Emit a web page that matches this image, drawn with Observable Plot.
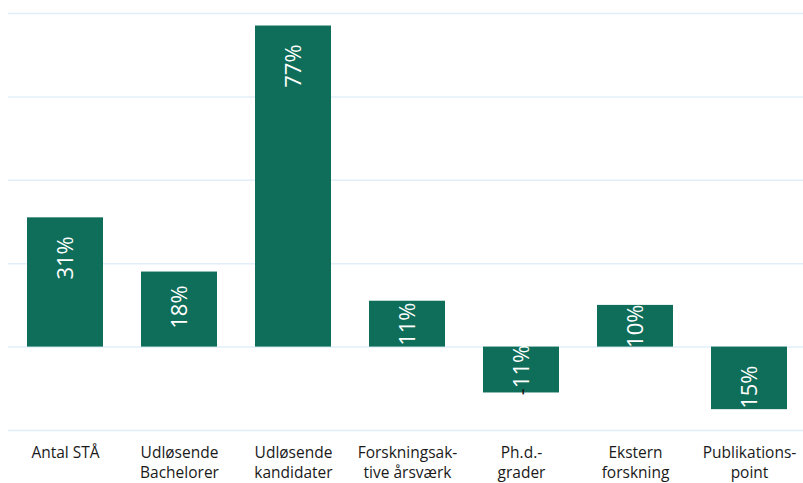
<!DOCTYPE html>
<html>
<head>
<meta charset="utf-8">
<script src="https://cdn.jsdelivr.net/npm/d3@7"></script>
<script src="https://cdn.jsdelivr.net/npm/@observablehq/plot@0.6"></script>
<style>
  html, body { margin: 0; padding: 0; background: #ffffff; }
  #chart svg { display: block; }
</style>
</head>
<body>
<div id="chart"></div>
<script>
// Categories (line breaks as shown under each bar)
const categories = [
  "Antal STÅ",
  "Udløsende\nBachelorer",
  "Udløsende\nkandidater",
  "Forskningsak-\ntive årsværk",
  "Ph.d.-\ngrader",
  "Ekstern\nforskning",
  "Publikations-\npoint"
];

// Change in percent per category
const values = [31, 18, 77, 11, -11, 10, -15];

// Text printed inside each bar
const valueLabels = ["31%", "18%", "77%", "11%", "-11%", "10%", "15%"];

// Horizontal grid lines
const gridTicks = [-20, 0, 20, 40, 60, 80];

const rows = categories.map((c, i) => ({category: c, value: values[i], label: valueLabels[i]}));

// Label sits near the end of long bars, centred in short ones
const pad = 9.6;
const labelPos = (d) => {
  const a = Math.abs(d.value), s = Math.sign(d.value);
  return a > 14 ? s * Math.max(a - pad, pad) : d.value / 2;
};

const barColor = "#0f6e5a";
const gridColor = "#e2eff8";

const chart = Plot.plot({
  width: 803,
  height: 483,
  marginTop: 13,
  marginBottom: 53,
  marginLeft: 8,
  marginRight: 0,
  style: {fontFamily: "'Open Sans', sans-serif", background: "#ffffff"},
  x: {domain: categories, range: [8, 806], paddingInner: 1 / 3, paddingOuter: 1 / 6, axis: null},
  y: {domain: [-20, 80], axis: null},
  marks: [
    Plot.ruleY(gridTicks, {stroke: gridColor, strokeWidth: 1.5}),
    Plot.barY(rows, {x: "category", y: "value", fill: barColor}),
    Plot.text(rows, {
      x: "category",
      y: labelPos,
      text: "label",
      rotate: -90,
      fill: "#ffffff",
      fontSize: 22,
      fontFamily: "'Open Sans', sans-serif",
      textAnchor: "middle",
      lineAnchor: "middle"
    }),
    Plot.text(categories, {
      x: (d) => d,
      text: (d) => d,
      frameAnchor: "bottom",
      lineAnchor: "top",
      dy: 13,
      lineHeight: 1.3,
      fontSize: 15.5,
      fill: "#1a1a1a",
      textAnchor: "middle"
    })
  ]
});

// A minus sign that falls below its bar is printed in dark ink
d3.select(chart).selectAll("text").each(function () {
  const t = this.textContent;
  if (t.startsWith("-") && t.endsWith("%") && !this.querySelector("tspan")) {
    const sel = d3.select(this);
    sel.text(null);
    sel.append("tspan").attr("fill", "#1a1a1a").text("-");
    sel.append("tspan").text(t.slice(1));
  }
});

document.getElementById("chart").appendChild(chart);
</script>
</body>
</html>
